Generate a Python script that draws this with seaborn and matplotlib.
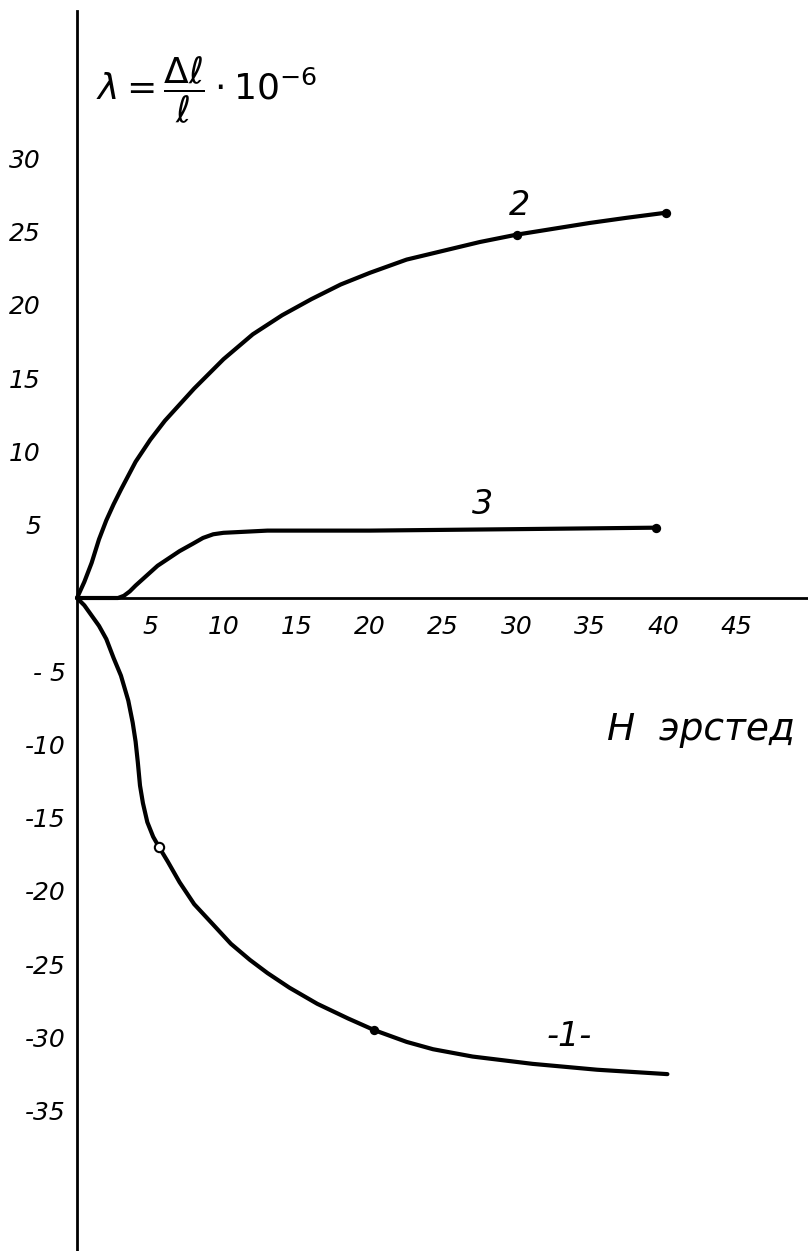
import matplotlib
matplotlib.use("Agg")
import matplotlib.pyplot as plt
import seaborn as sns
import pandas as pd

# ---- data ----
h_curve1 = [0, 0.5, 1.0, 1.5, 2.0, 2.5, 3.0, 3.5, 3.8, 4.0, 4.15, 4.3, 4.5, 4.8, 5.2, 5.6, 6.2, 7.0, 8.0,
            9.3, 10.5, 11.8, 13.0, 14.5, 16.4, 18.5, 20.3, 22.5, 24.3, 27.0, 31.1, 35.5, 40.3]
v_curve1 = [0, -0.5, -1.2, -1.9, -2.8, -4.1, -5.3, -7.0, -8.5, -9.8, -11.2, -12.8, -14.0, -15.3, -16.3, -17.0,
            -18.0, -19.4, -20.9, -22.3, -23.6, -24.7, -25.6, -26.6, -27.7, -28.7, -29.5, -30.3, -30.8, -31.3,
            -31.8, -32.2, -32.5]
h_curve2 = [0, 0.5, 1.0, 1.5, 2.0, 2.5, 3.0, 4.0, 5.0, 6.0, 7.0, 8.0, 9.0, 10.0, 12.0, 14.0, 16.0, 18.0,
            20.0, 22.5, 25.0, 27.5, 30.0, 32.5, 35.0, 37.5, 40.2]
v_curve2 = [0, 1.1, 2.4, 4.0, 5.3, 6.4, 7.4, 9.3, 10.8, 12.1, 13.2, 14.3, 15.3, 16.3, 18.0, 19.3, 20.4,
            21.4, 22.2, 23.1, 23.7, 24.3, 24.8, 25.2, 25.6, 25.95, 26.3]
h_curve3 = [0, 2.8, 3.2, 3.6, 4.0, 4.5, 5.0, 5.5, 6.1, 7.0, 7.9, 8.6, 9.3, 10.0, 11.0, 13.0, 20.0, 30.0, 39.5]
v_curve3 = [0, 0, 0.15, 0.45, 0.85, 1.3, 1.75, 2.2, 2.6, 3.2, 3.7, 4.1, 4.35, 4.45, 4.5, 4.6, 4.6, 4.7, 4.8]

marker_h = [30.0, 40.2, 39.5, 20.3]
marker_v = [24.8, 26.3, 4.8, -29.5]
open_marker_h = [5.6]
open_marker_v = [-17.0]

x_ticks = [5, 10, 15, 20, 25, 30, 35, 40, 45]
x_tick_labels = ["5", "10", "15", "20", "25", "30", "35", "40", "45"]
y_ticks_pos = [30, 25, 20, 15, 10, 5]
y_tick_labels_pos = ["30", "25", "20", "15", "10", "5"]
y_ticks_neg = [-5, -10, -15, -20, -25, -30, -35]
y_tick_labels_neg = ["- 5", "-10", "-15", "-20", "-25", "-30", "-35"]

curve_labels = ["-1-", "2", "3"]

# ---- build long-form table ----
df = pd.concat([
    pd.DataFrame({"H": h_curve1, "lam": v_curve1, "curve": "1"}),
    pd.DataFrame({"H": h_curve2, "lam": v_curve2, "curve": "2"}),
    pd.DataFrame({"H": h_curve3, "lam": v_curve3, "curve": "3"}),
], ignore_index=True)

sns.set_style("white")
plt.rcParams["font.family"] = ["DejaVu Sans"]
plt.rcParams["text.color"] = "black"
plt.rcParams["mathtext.fontset"] = "dejavusans"

fig = plt.figure(figsize=(8.08, 12.51), dpi=100)
ax = fig.add_axes([0, 0, 1, 1])

sns.lineplot(data=df, x="H", y="lam", units="curve", estimator=None, sort=False,
             color="black", linewidth=3.0, ax=ax, legend=False)
sns.scatterplot(x=marker_h, y=marker_v, color="black", s=45, ax=ax, zorder=5, linewidth=0)
sns.scatterplot(x=open_marker_h, y=open_marker_v, facecolor="white", edgecolor="black",
                s=45, linewidth=1.5, ax=ax, zorder=5)

ax.set_xlim(-77 / 14.65, 731 / 14.65)
ax.set_ylim(-653 / 14.65, 598 / 14.65)

# axes through the origin
for s in ["top", "right"]:
    ax.spines[s].set_visible(False)
ax.spines["left"].set_position(("data", 0))
ax.spines["bottom"].set_position(("data", 0))
ax.spines["left"].set_bounds(-44.6, 40.1)
ax.spines["bottom"].set_bounds(0, 50)
for s in ["left", "bottom"]:
    ax.spines[s].set_linewidth(2.0)
    ax.spines[s].set_color("black")

ax.set_xticks(x_ticks)
ax.set_xticklabels(x_tick_labels, fontsize=18, style="italic", color="black")
ax.set_yticks(y_ticks_pos)
ax.set_yticklabels(y_tick_labels_pos, fontsize=18, style="italic", color="black")
ax.set_yticks(y_ticks_neg, minor=True)
ax.set_yticklabels(y_tick_labels_neg, minor=True, fontsize=18, style="italic", color="black")
ax.tick_params(axis="x", direction="in", length=6, width=1, pad=12, colors="black")
ax.tick_params(axis="y", which="major", direction="inout", length=12, width=1.2, pad=20, colors="black")
ax.tick_params(axis="y", which="minor", length=0, pad=8, colors="black")
ax.set_xlabel("")
ax.set_ylabel("")

# curve labels
ax.text(33.6, -29.9, curve_labels[0], fontsize=24, style="italic", ha="center", va="center")
ax.text(30.2, 26.8, curve_labels[1], fontsize=24, style="italic", ha="center", va="center")
ax.text(27.7, 6.4, curve_labels[2], fontsize=24, style="italic", ha="center", va="center")

# axis titles
ax.text(36.2, -9.0, "H  эрстед", fontsize=27, style="italic", ha="left", va="center")
ax.text(1.3, 34.7, r"$\lambda = \dfrac{\Delta \ell}{\ell}\cdot 10^{-6}$", fontsize=26,
        ha="left", va="center")

fig.savefig("out.png", dpi=100)
